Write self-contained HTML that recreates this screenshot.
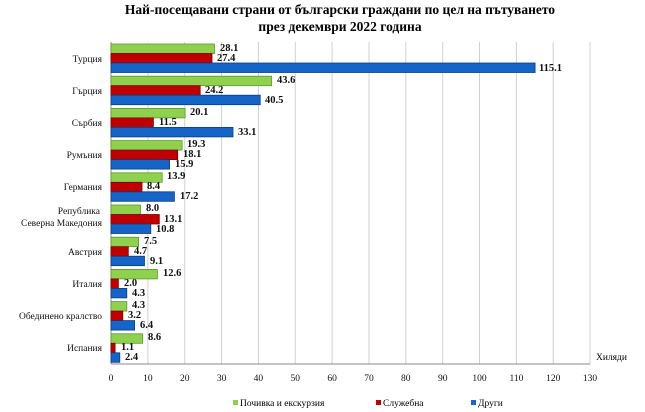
<!DOCTYPE html>
<html><head><meta charset="utf-8"><style>
body{margin:0;background:#fff}
svg{display:block;font-family:"Liberation Serif",serif}
.v{font-size:10.5px;font-weight:bold;fill:#111}
.c{font-size:9.5px;fill:#111;text-anchor:end}
.t{font-size:9.5px;fill:#111;text-anchor:middle}
</style></head><body>
<svg width="645" height="412" viewBox="0 0 645 412">
<text x="340" y="14" text-anchor="middle" font-size="13.5" font-weight="bold">Най-посещавани страни от български граждани по цел на пътуването</text>
<text x="340" y="31" text-anchor="middle" font-size="13.5" font-weight="bold">през декември 2022 година</text>
<g stroke="#d0d0d0" stroke-width="1">
<line x1="147.9" y1="42" x2="147.9" y2="364"/><line x1="184.7" y1="42" x2="184.7" y2="364"/><line x1="221.6" y1="42" x2="221.6" y2="364"/><line x1="258.4" y1="42" x2="258.4" y2="364"/><line x1="295.3" y1="42" x2="295.3" y2="364"/><line x1="332.1" y1="42" x2="332.1" y2="364"/><line x1="369" y1="42" x2="369" y2="364"/><line x1="405.8" y1="42" x2="405.8" y2="364"/><line x1="442.7" y1="42" x2="442.7" y2="364"/><line x1="479.5" y1="42" x2="479.5" y2="364"/><line x1="516.4" y1="42" x2="516.4" y2="364"/><line x1="553.2" y1="42" x2="553.2" y2="364"/><line x1="590" y1="42" x2="590" y2="364"/>
</g>
<line x1="111" y1="42" x2="111" y2="364" stroke="#888"/>
<line x1="111" y1="364" x2="590" y2="364" stroke="#888"/>
<g stroke-width="0.8">
<g fill="#8fd14f" stroke="#5a9a2a">
<rect x="111" y="44" width="103.5" height="9.5"/><rect x="111" y="76.2" width="160.7" height="9.5"/><rect x="111" y="108.4" width="74.1" height="9.5"/><rect x="111" y="140.6" width="71.1" height="9.5"/><rect x="111" y="172.8" width="51.2" height="9.5"/><rect x="111" y="205" width="29.5" height="9.5"/><rect x="111" y="237.2" width="27.6" height="9.5"/><rect x="111" y="269.4" width="46.4" height="9.5"/><rect x="111" y="301.6" width="15.8" height="9.5"/><rect x="111" y="333.8" width="31.7" height="9.5"/>
</g>
<g fill="#c00000" stroke="#800000">
<rect x="111" y="53.5" width="101" height="9.5"/><rect x="111" y="85.7" width="89.2" height="9.5"/><rect x="111" y="117.9" width="42.4" height="9.5"/><rect x="111" y="150.1" width="66.7" height="9.5"/><rect x="111" y="182.3" width="31" height="9.5"/><rect x="111" y="214.5" width="48.3" height="9.5"/><rect x="111" y="246.7" width="17.3" height="9.5"/><rect x="111" y="278.9" width="7.4" height="9.5"/><rect x="111" y="311.1" width="11.8" height="9.5"/><rect x="111" y="343.3" width="4.1" height="9.5"/>
</g>
<g fill="#1565c8" stroke="#0a3c80">
<rect x="111" y="63" width="424.1" height="9.5"/><rect x="111" y="95.2" width="149.2" height="9.5"/><rect x="111" y="127.4" width="122" height="9.5"/><rect x="111" y="159.6" width="58.6" height="9.5"/><rect x="111" y="191.8" width="63.4" height="9.5"/><rect x="111" y="224" width="39.8" height="9.5"/><rect x="111" y="256.2" width="33.5" height="9.5"/><rect x="111" y="288.4" width="15.8" height="9.5"/><rect x="111" y="320.6" width="23.6" height="9.5"/><rect x="111" y="352.8" width="8.8" height="9.5"/>
</g>
</g>
<g class="v">
<text x="220" y="51">28.1</text><text x="217" y="61">27.4</text><text x="539" y="71">115.1</text>
<text x="277" y="83">43.6</text><text x="205" y="93">24.2</text><text x="265" y="103">40.5</text>
<text x="190" y="115">20.1</text><text x="159" y="125">11.5</text><text x="238" y="135">33.1</text>
<text x="187" y="147">19.3</text><text x="183" y="157">18.1</text><text x="175" y="167">15.9</text>
<text x="167" y="179">13.9</text><text x="147" y="189">8.4</text><text x="180" y="199">17.2</text>
<text x="146" y="211">8.0</text><text x="164" y="222">13.1</text><text x="156" y="232">10.8</text>
<text x="144" y="244">7.5</text><text x="134" y="254">4.7</text><text x="150" y="264">9.1</text>
<text x="163" y="276">12.6</text><text x="124" y="286">2.0</text><text x="132" y="296">4.3</text>
<text x="132" y="308">4.3</text><text x="128" y="318">3.2</text><text x="140" y="328">6.4</text>
<text x="148" y="340">8.6</text><text x="121" y="350">1.1</text><text x="125" y="360">2.4</text>
</g>
<g class="c">
<text x="102" y="62">Турция</text><text x="102" y="94">Гърция</text><text x="102" y="126">Сърбия</text><text x="102" y="158">Румъния</text><text x="102" y="190">Германия</text>
<text x="100" y="214">Република</text><text x="102" y="226">Северна Македония</text>
<text x="102" y="255">Австрия</text><text x="102" y="287">Италия</text><text x="102" y="319">Обединено кралство</text><text x="102" y="351">Испания</text>
</g>
<g class="t">
<text x="111" y="381">0</text><text x="147.9" y="381">10</text><text x="184.7" y="381">20</text><text x="221.6" y="381">30</text><text x="258.4" y="381">40</text><text x="295.3" y="381">50</text><text x="332.1" y="381">60</text><text x="369" y="381">70</text><text x="405.8" y="381">80</text><text x="442.7" y="381">90</text><text x="479.5" y="381">100</text><text x="516.4" y="381">110</text><text x="553.2" y="381">120</text><text x="590" y="381">130</text>
</g>
<text x="596" y="360" font-size="9.5">Хиляди</text>
<rect x="233" y="400" width="5" height="5" fill="#8fd14f"/><text x="240" y="406" font-size="9.5">Почивка и екскурзия</text>
<rect x="376" y="400" width="5" height="5" fill="#c00000"/><text x="383" y="406" font-size="9.5">Служебна</text>
<rect x="471" y="400" width="5" height="5" fill="#1565c8"/><text x="478" y="406" font-size="9.5">Други</text>
</svg>
</body></html>
